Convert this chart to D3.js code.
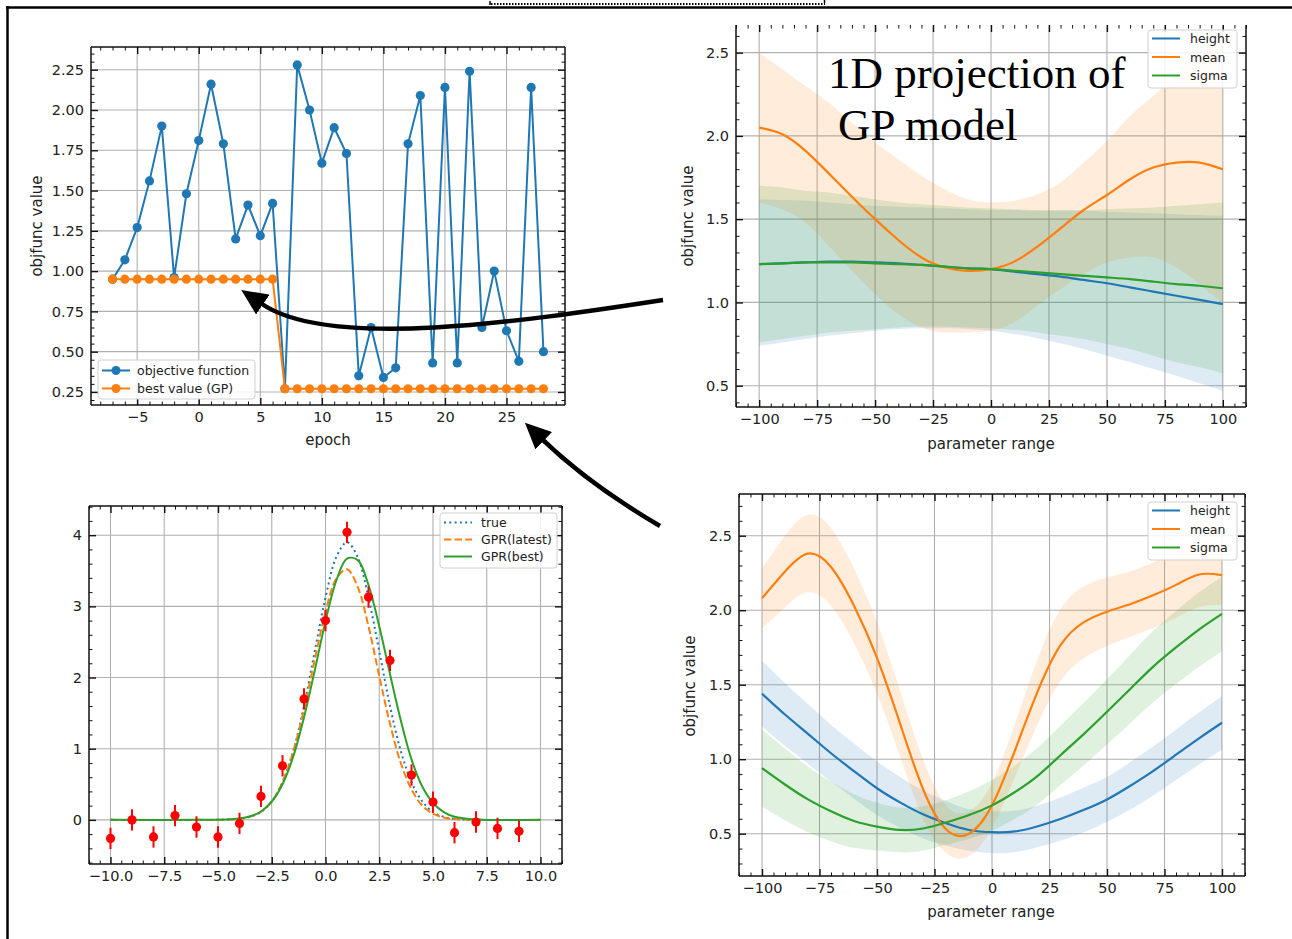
<!DOCTYPE html>
<html>
<head>
<meta charset="utf-8">
<script src="https://cdn.jsdelivr.net/npm/d3@7"></script>
<style>
    body { margin: 0; background: #fff; }
    svg { display: block; font-family: "DejaVu Sans", sans-serif; }
    .grid line { stroke: #b0b0b0; stroke-width: 1.1; }
    .major line { stroke: #111; stroke-width: 1.4; }
    .minor line { stroke: #111; stroke-width: 1; }
    .tick text { fill: #222; }
</style>
</head>
<body>
<div id="chart"></div>
<script>
// ---- top-left: optimisation history ----
const epochs = [-7,-6,-5,-4,-3,-2,-1,0,1,2,3,4,5,6,7,8,9,10,11,12,13,14,15,16,17,18,19,20,21,22,23,24,25,26,27,28];
const objective = [0.95,1.07,1.27,1.56,1.90,0.96,1.48,1.81,2.16,1.79,1.20,1.41,1.22,1.42,0.27,2.28,2.00,1.67,1.89,1.73,
                   0.35,0.65,0.34,0.40,1.79,2.09,0.43,2.14,0.43,2.24,0.65,1.00,0.63,0.44,2.14,0.50];
const bestValue = [0.95,0.95,0.95,0.95,0.95,0.95,0.95,0.95,0.95,0.95,0.95,0.95,0.95,0.95,
                   0.27,0.27,0.27,0.27,0.27,0.27,0.27,0.27,0.27,0.27,0.27,0.27,0.27,0.27,0.27,0.27,0.27,0.27,0.27,0.27,0.27,0.27];

// ---- 1D projections of the GP model ----
const gpGrid = [-100,-90,-80,-70,-60,-50,-40,-30,-20,-10,0,10,20,30,40,50,60,70,80,90,100];

const projAHeight   = [1.23,1.235,1.24,1.245,1.245,1.24,1.235,1.225,1.215,1.205,1.20,1.185,1.17,1.155,1.135,1.115,1.09,1.065,1.04,1.015,0.99];
const projAHeightLo = [0.74,0.76,0.78,0.80,0.815,0.83,0.84,0.845,0.845,0.84,0.83,0.81,0.785,0.755,0.72,0.68,0.64,0.60,0.56,0.515,0.47];
const projAHeightHi = [1.62,1.615,1.61,1.60,1.59,1.58,1.575,1.57,1.565,1.56,1.555,1.555,1.55,1.55,1.55,1.545,1.54,1.535,1.53,1.525,1.52];
const projAMean     = [2.05,2.01,1.91,1.775,1.635,1.50,1.375,1.27,1.21,1.19,1.20,1.245,1.335,1.445,1.555,1.645,1.74,1.81,1.84,1.84,1.80];
const projAMeanLo   = [1.60,1.56,1.48,1.34,1.19,1.05,0.93,0.85,0.82,0.82,0.83,0.88,0.98,1.08,1.17,1.24,1.27,1.27,1.21,1.11,0.99];
const projAMeanHi   = [2.50,2.40,2.30,2.20,2.08,1.96,1.86,1.76,1.68,1.62,1.60,1.61,1.65,1.72,1.84,1.97,2.12,2.24,2.37,2.50,2.62];
const projASigma    = [1.23,1.235,1.24,1.24,1.24,1.235,1.23,1.225,1.215,1.205,1.20,1.19,1.18,1.17,1.16,1.15,1.14,1.125,1.11,1.10,1.085];
const projASigmaLo  = [0.76,0.78,0.80,0.82,0.83,0.84,0.85,0.855,0.855,0.85,0.845,0.835,0.82,0.80,0.78,0.75,0.72,0.68,0.64,0.61,0.575];
const projASigmaHi  = [1.70,1.69,1.67,1.66,1.64,1.62,1.60,1.59,1.58,1.57,1.565,1.56,1.555,1.555,1.555,1.56,1.565,1.57,1.58,1.59,1.60];

const projBHeight       = [1.44,1.30,1.17,1.04,0.92,0.805,0.71,0.63,0.57,0.525,0.51,0.515,0.55,0.60,0.66,0.73,0.82,0.92,1.03,1.14,1.245];
const projBHeightSpread = [0.22,0.21,0.20,0.19,0.185,0.18,0.17,0.16,0.15,0.14,0.14,0.14,0.14,0.145,0.15,0.15,0.16,0.165,0.17,0.175,0.18];
const projBMean         = [2.08,2.26,2.38,2.29,2.03,1.68,1.24,0.80,0.53,0.50,0.69,1.06,1.46,1.77,1.92,1.99,2.04,2.10,2.17,2.24,2.235];
const projBMeanSpread   = [0.20,0.24,0.26,0.26,0.25,0.24,0.22,0.20,0.16,0.15,0.15,0.18,0.22,0.24,0.24,0.23,0.22,0.22,0.22,0.22,0.20];
const projBSigma        = [0.94,0.83,0.73,0.65,0.585,0.547,0.525,0.535,0.575,0.625,0.69,0.78,0.89,1.03,1.17,1.318,1.47,1.62,1.75,1.87,1.975];
const projBSigmaSpread  = [0.26,0.24,0.22,0.20,0.18,0.16,0.15,0.15,0.15,0.16,0.17,0.18,0.19,0.20,0.21,0.22,0.23,0.24,0.245,0.25,0.25];

// ---- bottom-left: gaussian fit ----
const sampleX   = [-10,-9,-8,-7,-6,-5,-4,-3,-2,-1,0,1,2,3,4,5,6,7,8,9];
const sampleY   = [-0.26,0.00,-0.24,0.06,-0.10,-0.24,-0.05,0.33,0.76,1.70,2.80,4.04,3.13,2.24,0.63,0.25,-0.18,-0.03,-0.12,-0.16];
const sampleErr = [0.15,0.15,0.15,0.15,0.15,0.15,0.15,0.15,0.15,0.15,0.15,0.15,0.15,0.15,0.15,0.15,0.15,0.15,0.15,0.15];
const curveX   = [-10,-6,-5,-4,-3.5,-3,-2.5,-2,-1.5,-1,-0.5,0,0.5,1,1.5,2,2.5,3,3.5,4,4.5,5,5.5,6,7,10];
const trueY    = [0,0,0.001,0.015,0.043,0.11,0.26,0.53,0.97,1.60,2.37,3.12,3.69,3.90,3.69,3.12,2.37,1.60,0.97,0.53,0.26,0.11,0.043,0.015,0.001,0];
const latestY  = [0,0,0.001,0.016,0.046,0.116,0.26,0.53,0.96,1.55,2.25,2.92,3.39,3.52,3.27,2.72,2.02,1.35,0.80,0.43,0.20,0.087,0.033,0.011,0.001,0];
const bestY    = [0,0,0.002,0.019,0.05,0.118,0.255,0.50,0.89,1.44,2.10,2.79,3.36,3.67,3.65,3.30,2.72,2.05,1.40,0.85,0.47,0.24,0.11,0.045,0.006,0];

// tick labels
const histXTicks = [-5,0,5,10,15,20,25];
const histYTicks = [0.25,0.5,0.75,1.0,1.25,1.5,1.75,2.0,2.25];
const projXTicks = [-100,-75,-50,-25,0,25,50,75,100];
const projYTicks = [0.5,1.0,1.5,2.0,2.5];
const fitXTicks  = [-10,-7.5,-5,-2.5,0,2.5,5,7.5,10];
const fitYTicks  = [0,1,2,3,4];

const C = {blue: "#1f77b4", orange: "#ff7f0e", green: "#2ca02c", red: "#ff0000"};

const svg = d3.select("#chart").append("svg")
    .attr("width", 1292)
    .attr("height", 939);
svg.append("rect").attr("width", 1292).attr("height", 939).attr("fill", "#fff");

function inRange(v, dom) { return v >= Math.min(...dom) - 1e-9 && v <= Math.max(...dom) + 1e-9; }

function makePanel(cfg) {
    let p = {cfg: cfg};
    p.w = cfg.right - cfg.left;
    p.h = cfg.bottom - cfg.top;
    p.g = svg.append("g").attr("transform", `translate(${cfg.left},${cfg.top})`);
    p.x = d3.scaleLinear().domain(cfg.xDomain).range([0, p.w]);
    p.y = d3.scaleLinear().domain(cfg.yDomain).range([p.h, 0]);

    let grid = p.g.append("g").attr("class", "grid");
    grid.selectAll(".gx").data(cfg.xTicks).join("line")
        .attr("x1", d => p.x(d)).attr("x2", d => p.x(d))
        .attr("y1", 0).attr("y2", p.h);
    grid.selectAll(".gy").data(cfg.yTicks).join("line")
        .attr("x1", 0).attr("x2", p.w)
        .attr("y1", d => p.y(d)).attr("y2", d => p.y(d));

    p.g.append("clipPath").attr("id", "clip" + cfg.id)
        .append("rect").attr("width", p.w).attr("height", p.h);
    p.plot = p.g.append("g").attr("clip-path", `url(#clip${cfg.id})`);
    return p;
}

function finishPanel(p) {
    let cfg = p.cfg;
    let xMinor = cfg.xMinor.filter(v => inRange(v, cfg.xDomain) && !cfg.xTicks.some(t => Math.abs(t - v) < 1e-9));
    let yMinor = cfg.yMinor.filter(v => inRange(v, cfg.yDomain) && !cfg.yTicks.some(t => Math.abs(t - v) < 1e-9));

    let sides = [
        [d3.axisBottom, p.x, `translate(0,${p.h})`, cfg.xTicks, xMinor, cfg.xFormat],
        [d3.axisTop, p.x, null, cfg.xTicks, xMinor, null],
        [d3.axisLeft, p.y, null, cfg.yTicks, yMinor, cfg.yFormat],
        [d3.axisRight, p.y, `translate(${p.w},0)`, cfg.yTicks, yMinor, null]
    ];
    sides.forEach(([make, scale, tr, major, minor, fmt]) => {
        let gm = p.g.append("g").attr("class", "minor").attr("transform", tr)
            .call(make(scale).tickValues(minor).tickSizeInner(-3.5).tickSizeOuter(0).tickFormat(""));
        gm.select(".domain").remove();
        let gM = p.g.append("g").attr("class", "major").attr("transform", tr)
            .call(make(scale).tickValues(major).tickSizeInner(-7).tickSizeOuter(0).tickPadding(7)
                .tickFormat(fmt ? fmt : ""));
        gM.select(".domain").remove();
        gM.attr("font-size", 14.5).attr("font-family", "DejaVu Sans");
    });

    // spines
    let spines = [[0, 0, 0, p.h], [p.w, 0, p.w, p.h], [0, p.h, p.w, p.h]];
    if (!cfg.noTopSpine) spines.push([0, 0, p.w, 0]);
    p.g.selectAll(".spine").data(spines).join("line")
        .attr("x1", d => d[0]).attr("y1", d => d[1]).attr("x2", d => d[2]).attr("y2", d => d[3])
        .attr("stroke", "#111").attr("stroke-width", 1.5);

    if (cfg.xLabel) {
        svg.append("text")
            .attr("x", cfg.xLabel[1]).attr("y", cfg.xLabel[2])
            .attr("text-anchor", "middle").attr("font-size", 15).attr("fill", "#222")
            .text(cfg.xLabel[0]);
    }
    if (cfg.yLabel) {
        svg.append("text")
            .attr("transform", `translate(${cfg.yLabel[1]},${cfg.yLabel[2]}) rotate(-90)`)
            .attr("text-anchor", "middle").attr("dominant-baseline", "central")
            .attr("font-size", 15).attr("fill", "#222")
            .text(cfg.yLabel[0]);
    }
}

function legend(box, items) {
    let lg = svg.append("g");
    lg.append("rect")
        .attr("x", box.x).attr("y", box.y).attr("width", box.w).attr("height", box.h)
        .attr("rx", 3).attr("fill", "#fff").attr("fill-opacity", 0.85)
        .attr("stroke", "#d0d0d0").attr("stroke-width", 1);
    items.forEach((it, i) => {
        let cy = box.y + box.first + i * box.step;
        lg.append("line")
            .attr("x1", box.x + 4).attr("x2", box.x + 32).attr("y1", cy).attr("y2", cy)
            .attr("stroke", it.color).attr("stroke-width", 2)
            .attr("stroke-dasharray", it.dash || null);
        if (it.marker) {
            lg.append("circle").attr("cx", box.x + 18).attr("cy", cy).attr("r", 4.5).attr("fill", it.color);
        }
        lg.append("text")
            .attr("x", box.x + box.textOff).attr("y", cy + 4.5)
            .attr("font-size", 12.5).attr("fill", "#222")
            .text(it.label);
    });
}

// ================= top-left =================
let p1 = makePanel({
    id: 1, left: 91, right: 565, top: 47, bottom: 405,
    xDomain: [-8.75, 29.75], yDomain: [0.169, 2.391],
    xTicks: histXTicks, yTicks: histYTicks,
    xMinor: d3.range(-8, 30, 1), yMinor: d3.range(0.2, 2.4, 0.05),
    xFormat: d3.format("d"), yFormat: d3.format(".2f"),
    xLabel: ["epoch", 328, 445], yLabel: ["objfunc value", 37, 226]
});
let histSeries = [
    {values: objective, color: C.blue},
    {values: bestValue, color: C.orange}
];
histSeries.forEach(s => {
    let pts = epochs.map((e, i) => ({e: e, v: s.values[i]}));
    p1.plot.append("path").datum(pts)
        .attr("fill", "none").attr("stroke", s.color).attr("stroke-width", 2)
        .attr("d", d3.line().x(d => p1.x(d.e)).y(d => p1.y(d.v)));
    p1.plot.selectAll(null).data(pts).join("circle")
        .attr("cx", d => p1.x(d.e)).attr("cy", d => p1.y(d.v)).attr("r", 4.6)
        .attr("fill", s.color);
});
finishPanel(p1);
legend({x: 98, y: 360, w: 157, h: 39, first: 10.5, step: 18, textOff: 39}, [
    {label: "objective function", color: C.blue, marker: true},
    {label: "best value (GP)", color: C.orange, marker: true}
]);

// ================= projections =================
function drawProjection(p, series) {
    let area = d3.area().curve(d3.curveNatural)
        .x(d => p.x(d.x)).y0(d => p.y(d.lo)).y1(d => p.y(d.hi));
    let line = d3.line().curve(d3.curveNatural)
        .x(d => p.x(d.x)).y(d => p.y(d.m));
    series.forEach(s => {
        let pts = gpGrid.map((x, i) => ({x: x, m: s.mean[i], lo: s.lo[i], hi: s.hi[i]}));
        p.plot.append("path").datum(pts)
            .attr("fill", s.color).attr("fill-opacity", 0.15).attr("d", area);
    });
    series.forEach(s => {
        let pts = gpGrid.map((x, i) => ({x: x, m: s.mean[i]}));
        p.plot.append("path").datum(pts)
            .attr("fill", "none").attr("stroke", s.color).attr("stroke-width", 2.2).attr("d", line);
    });
}
const gpLegendItems = [
    {label: "height", color: C.blue},
    {label: "mean", color: C.orange},
    {label: "sigma", color: C.green}
];

let p2 = makePanel({
    id: 2, left: 736, right: 1246, top: 25, bottom: 407, noTopSpine: true,
    xDomain: [-110, 110], yDomain: [0.372, 2.666],
    xTicks: projXTicks, yTicks: projYTicks,
    xMinor: d3.range(-110, 111, 5), yMinor: d3.range(0.4, 2.7, 0.1),
    xFormat: d3.format("d"), yFormat: d3.format(".1f"),
    xLabel: ["parameter range", 991, 449], yLabel: ["objfunc value", 688, 216]
});
drawProjection(p2, [
    {mean: projAHeight, lo: projAHeightLo, hi: projAHeightHi, color: C.blue},
    {mean: projAMean, lo: projAMeanLo, hi: projAMeanHi, color: C.orange},
    {mean: projASigma, lo: projASigmaLo, hi: projASigmaHi, color: C.green}
]);
finishPanel(p2);
legend({x: 1148, y: 30, w: 89, h: 58, first: 8.5, step: 18.5, textOff: 42}, gpLegendItems);

svg.append("g").attr("font-family", "Liberation Serif, Times New Roman, serif")
    .attr("font-size", 45).attr("fill", "#000")
    .selectAll("text").data([["1D projection of", 828, 88], ["GP model", 838, 140]])
    .join("text")
    .attr("x", d => d[1]).attr("y", d => d[2]).text(d => d[0]);

let p4 = makePanel({
    id: 4, left: 739, right: 1245, top: 494, bottom: 876,
    xDomain: [-110, 110], yDomain: [0.216, 2.78],
    xTicks: projXTicks, yTicks: projYTicks,
    xMinor: d3.range(-110, 111, 5), yMinor: d3.range(0.3, 2.8, 0.1),
    xFormat: d3.format("d"), yFormat: d3.format(".1f"),
    xLabel: ["parameter range", 991, 917], yLabel: ["objfunc value", 690, 686]
});
function spreadBand(mean, spread, sign) { return mean.map((m, i) => m + sign * spread[i]); }
drawProjection(p4, [
    {mean: projBHeight, lo: spreadBand(projBHeight, projBHeightSpread, -1), hi: spreadBand(projBHeight, projBHeightSpread, 1), color: C.blue},
    {mean: projBMean, lo: spreadBand(projBMean, projBMeanSpread, -1), hi: spreadBand(projBMean, projBMeanSpread, 1), color: C.orange},
    {mean: projBSigma, lo: spreadBand(projBSigma, projBSigmaSpread, -1), hi: spreadBand(projBSigma, projBSigmaSpread, 1), color: C.green}
]);
finishPanel(p4);
legend({x: 1148, y: 502, w: 89, h: 58, first: 8.5, step: 18.5, textOff: 42}, gpLegendItems);

// ================= bottom-left =================
let p3 = makePanel({
    id: 3, left: 89, right: 562, top: 506, bottom: 864,
    xDomain: [-11, 11], yDomain: [-0.62, 4.41],
    xTicks: fitXTicks, yTicks: fitYTicks,
    xMinor: d3.range(-11, 11.01, 0.5), yMinor: d3.range(-0.6, 4.41, 0.2),
    xFormat: d3.format(".1f"), yFormat: d3.format("d")
});
let fitLine = d3.line().curve(d3.curveCatmullRom).x(d => p3.x(d.x)).y(d => p3.y(d.y));
let fitSeries = [
    {values: trueY, color: C.blue, dash: "2,3.3"},
    {values: latestY, color: C.orange, dash: "7.4,3.2"},
    {values: bestY, color: C.green, dash: null}
];
fitSeries.forEach(s => {
    p3.plot.append("path").datum(curveX.map((x, i) => ({x: x, y: s.values[i]})))
        .attr("fill", "none").attr("stroke", s.color).attr("stroke-width", 2)
        .attr("stroke-dasharray", s.dash).attr("d", fitLine);
});
let samples = sampleX.map((x, i) => ({x: x, y: sampleY[i], e: sampleErr[i]}));
p3.plot.selectAll(".err").data(samples).join("line")
    .attr("x1", d => p3.x(d.x)).attr("x2", d => p3.x(d.x))
    .attr("y1", d => p3.y(d.y - d.e)).attr("y2", d => p3.y(d.y + d.e))
    .attr("stroke", C.red).attr("stroke-width", 2);
p3.plot.selectAll(".pt").data(samples).join("circle")
    .attr("cx", d => p3.x(d.x)).attr("cy", d => p3.y(d.y)).attr("r", 4.6)
    .attr("fill", C.red);
finishPanel(p3);
legend({x: 440, y: 513, w: 117, h: 55, first: 9.5, step: 17, textOff: 41}, [
    {label: "true", color: C.blue, dash: "2,3.3"},
    {label: "GPR(latest)", color: C.orange, dash: "7.4,3.2"},
    {label: "GPR(best)", color: C.green}
]);

// ================= annotation arrows and frame =================
let defs = svg.append("defs");
defs.append("marker").attr("id", "head")
    .attr("viewBox", "0 0 26 24").attr("markerWidth", 26).attr("markerHeight", 24)
    .attr("refX", 1).attr("refY", 12).attr("orient", "auto").attr("markerUnits", "userSpaceOnUse")
    .append("path").attr("d", "M0,0 L26,12 L0,24 Z").attr("fill", "#000");

const arrows = ["M663,300 C520,322 330,350 262,304", "M660,526 Q590,485 543,440"];
svg.selectAll(".arrow").data(arrows).join("path")
    .attr("d", d => d).attr("fill", "none").attr("stroke", "#000").attr("stroke-width", 4.5)
    .attr("marker-end", "url(#head)");

// page frame
svg.append("line").attr("x1", 6).attr("x2", 1292).attr("y1", 7.5).attr("y2", 7.5)
    .attr("stroke", "#000").attr("stroke-width", 2.5);
svg.append("line").attr("x1", 7.5).attr("x2", 7.5).attr("y1", 6).attr("y2", 939)
    .attr("stroke", "#000").attr("stroke-width", 2.5);
svg.append("line").attr("x1", 491).attr("x2", 825).attr("y1", 4).attr("y2", 4)
    .attr("stroke", "#000").attr("stroke-width", 2).attr("stroke-dasharray", "1.5,1.5");
svg.append("line").attr("x1", 490).attr("x2", 490).attr("y1", 1).attr("y2", 5)
    .attr("stroke", "#000").attr("stroke-width", 1.5);
svg.append("line").attr("x1", 824.5).attr("x2", 824.5).attr("y1", 0).attr("y2", 3)
    .attr("stroke", "#000").attr("stroke-width", 1.5);
</script>
</body>
</html>
